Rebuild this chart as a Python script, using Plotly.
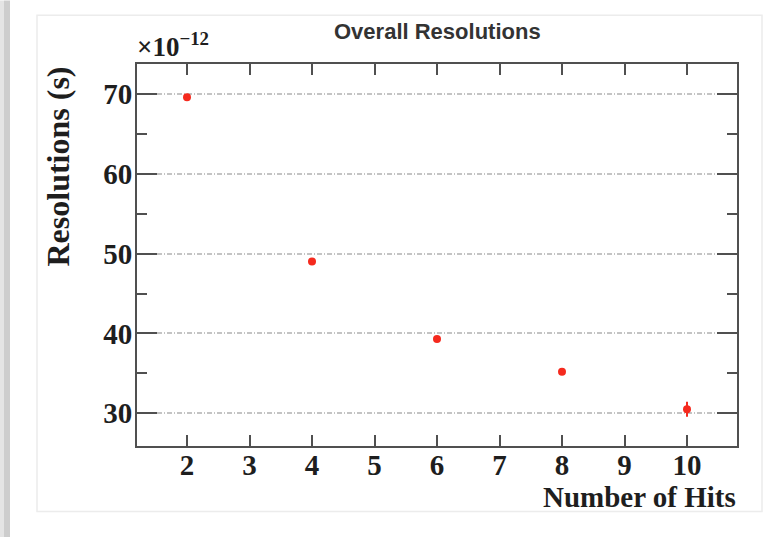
import plotly.graph_objects as go

# ---- data ----
hits = [2, 4, 6, 8, 10]
resolution = [69.6, 49.0, 39.3, 35.2, 30.5]      # in units of 1e-12 s
resolution_err = [0.3, 0.3, 0.3, 0.35, 0.95]
y_ticks = [30, 40, 50, 60, 70]
x_ticks = [2, 3, 4, 5, 6, 7, 8, 9, 10]

W, H = 774, 537
L, R, T, B = 137, 737, 63.5, 446


def px(xp):
    return (xp - L) / (R - L)


def py(yp):
    return (B - yp) / (B - T)


serif = "Liberation Serif, Times New Roman, serif"
sans = "Liberation Sans, Arial, Helvetica, sans-serif"
axis_col = "#505050"
txt_col = "#1e1e1e"

fig = go.Figure()
fig.add_trace(go.Scatter(
    x=hits, y=resolution, mode="markers",
    marker=dict(color="#f52a1e", size=8, line=dict(width=0)),
    error_y=dict(type="data", array=resolution_err, color="#f52a1e",
                 thickness=2, width=0),
    showlegend=False,
))

fig.update_layout(
    width=W, height=H,
    margin=dict(l=L, r=W - R, t=T, b=H - B),
    paper_bgcolor="white", plot_bgcolor="white",
    xaxis=dict(
        range=[1.2, 10.8], tickvals=x_ticks, ticktext=[str(v) for v in x_ticks],
        ticks="inside", ticklen=11, tickwidth=2, tickcolor=axis_col,
        showline=True, linecolor=axis_col, linewidth=2, mirror="ticks",
        showgrid=False, zeroline=False,
        tickfont=dict(family=serif, size=29, color=txt_col, weight="bold"),
        ticklabelstandoff=-8,
    ),
    yaxis=dict(
        range=[25.9, 73.75], tickvals=y_ticks, ticktext=[str(v) for v in y_ticks],
        ticks="inside", ticklen=20, tickwidth=2, tickcolor=axis_col,
        showline=True, linecolor=axis_col, linewidth=2, mirror="ticks",
        showgrid=True, gridcolor="#c4c4c4", gridwidth=1.5, griddash="5px,2px,1px,2px",
        zeroline=False,
        minor=dict(dtick=5, tick0=25, ticks="inside", ticklen=10, tickwidth=2,
                   tickcolor=axis_col, showgrid=False),
        tickfont=dict(family=serif, size=29, color=txt_col, weight="bold"),
        ticklabelstandoff=-3,
    ),
    shapes=[
        # outer light frame
        dict(type="rect", xref="paper", yref="paper",
             x0=px(37), x1=px(762), y0=py(511.7), y1=py(14.7),
             line=dict(color="#ececec", width=1.5), fillcolor="rgba(0,0,0,0)",
             layer="below"),
        # grey strip at left edge
        dict(type="rect", xref="paper", yref="paper",
             x0=px(0), x1=px(4), y0=py(H), y1=py(0),
             line=dict(width=0), fillcolor="#e4e4e4", layer="below"),
        dict(type="rect", xref="paper", yref="paper",
             x0=px(4), x1=px(10), y0=py(H), y1=py(0),
             line=dict(width=0), fillcolor="#cdcdcd", layer="below"),
    ],
    annotations=[
        dict(text="<b>Overall Resolutions</b>", xref="paper", yref="paper",
             x=px(437), y=py(31), xanchor="center", yanchor="middle",
             showarrow=False, font=dict(family=sans, size=22, color="#333")),
        dict(text="<b>Resolutions (s)</b>", xref="paper", yref="paper",
             x=px(58), y=py(64), xanchor="center", yanchor="top",
             textangle=-90, showarrow=False,
             font=dict(family=serif, size=32, color=txt_col)),
        dict(text="<b>Number of Hits</b>", xref="paper", yref="paper",
             x=px(738), y=py(497), xanchor="right", yanchor="middle",
             showarrow=False, font=dict(family=serif, size=29, color=txt_col)),
        dict(text="<b>×10<sup>−12</sup></b>", xref="paper", yref="paper",
             x=px(135), y=py(63), xanchor="left", yanchor="bottom",
             showarrow=False, font=dict(family=serif, size=27, color=txt_col)),
    ],
)

fig.write_html(
    "out.html",
    config={"displayModeBar": False},
    post_script="document.body.style.margin='0';document.body.style.padding='0';",
)
